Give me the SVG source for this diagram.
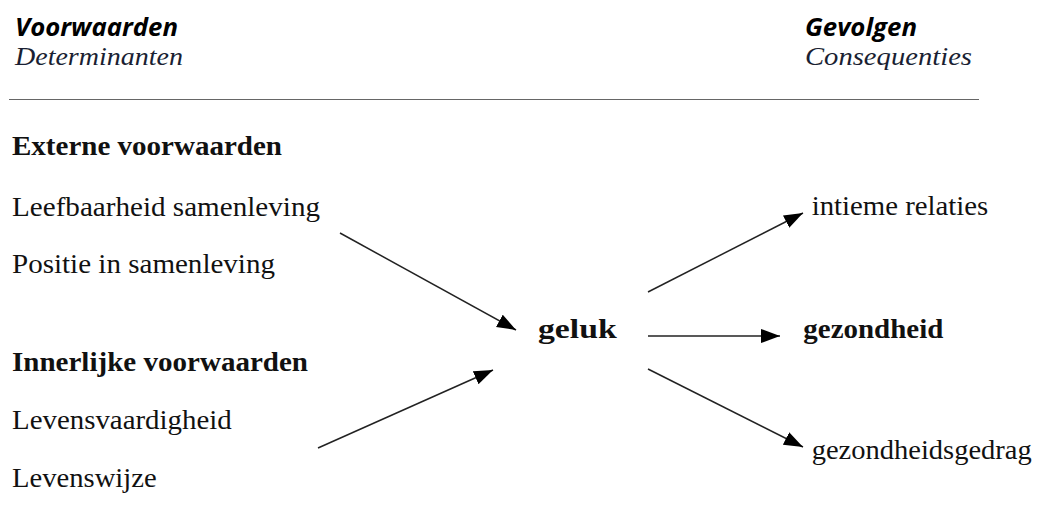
<svg xmlns="http://www.w3.org/2000/svg" width="1039" height="517" viewBox="0 0 1039 517">
<style>
.hd{font-family:"Open Sans","Liberation Sans",sans-serif;font-weight:bold;font-style:italic;font-size:25px;fill:#000}
.sub{font-family:"Liberation Serif",serif;font-style:italic;font-size:24.5px;fill:#1a1f33}
.t{font-family:"Liberation Serif",serif;font-size:27.5px;fill:#111}
.b{font-weight:bold}
.conn line{stroke:#222;stroke-width:1.5;fill:none}
</style>
<defs>
<marker id="ah" markerUnits="userSpaceOnUse" markerWidth="20" markerHeight="15" refX="19" refY="7" orient="auto">
<path d="M0,0 L19,7 L0,14 z" fill="#000"/>
</marker>
</defs>
<rect width="1039" height="517" fill="#fff"/>
<g id="header-left">
<text class="hd" x="15" y="35.5" textLength="163" lengthAdjust="spacingAndGlyphs">Voorwaarden</text>
<text class="sub" x="15" y="64.5" textLength="168" lengthAdjust="spacingAndGlyphs">Determinanten</text>
</g>
<g id="header-right">
<text class="hd" x="805" y="35.5" textLength="112" lengthAdjust="spacingAndGlyphs">Gevolgen</text>
<text class="sub" x="805" y="64.5" textLength="167" lengthAdjust="spacingAndGlyphs">Consequenties</text>
</g>
<line x1="9" y1="99.5" x2="979" y2="99.5" stroke="#666" stroke-width="1.2"/>
<g id="externe">
<text class="t b" x="12" y="155" textLength="270" lengthAdjust="spacingAndGlyphs">Externe voorwaarden</text>
<text class="t" x="12" y="215.5" textLength="308" lengthAdjust="spacingAndGlyphs">Leefbaarheid samenleving</text>
<text class="t" x="12" y="273" textLength="263" lengthAdjust="spacingAndGlyphs">Positie in samenleving</text>
</g>
<g id="innerlijke">
<text class="t b" x="12" y="370.5" textLength="296" lengthAdjust="spacingAndGlyphs">Innerlijke voorwaarden</text>
<text class="t" x="12" y="429.3" textLength="219.7" lengthAdjust="spacingAndGlyphs">Levensvaardigheid</text>
<text class="t" x="12" y="487" textLength="144.7" lengthAdjust="spacingAndGlyphs">Levenswijze</text>
</g>
<g id="geluk">
<text class="t b" x="538" y="338.3" textLength="78.7" lengthAdjust="spacingAndGlyphs">geluk</text>
</g>
<g id="intieme-relaties">
<text class="t" x="811.7" y="215" textLength="176.6" lengthAdjust="spacingAndGlyphs">intieme relaties</text>
</g>
<g id="gezondheid">
<text class="t b" x="803.3" y="338" textLength="140" lengthAdjust="spacingAndGlyphs">gezondheid</text>
</g>
<g id="gezondheidsgedrag">
<text class="t" x="811.7" y="459" textLength="220" lengthAdjust="spacingAndGlyphs">gezondheidsgedrag</text>
</g>
<g id="connectors" class="conn">
<line x1="340" y1="233" x2="516" y2="330" marker-end="url(#ah)"/>
<line x1="318" y1="448" x2="493" y2="370" marker-end="url(#ah)"/>
<line x1="648" y1="292" x2="803" y2="213" marker-end="url(#ah)"/>
<line x1="648" y1="336" x2="780" y2="336" marker-end="url(#ah)"/>
<line x1="648" y1="369" x2="803" y2="447" marker-end="url(#ah)"/>
</g>
</svg>
